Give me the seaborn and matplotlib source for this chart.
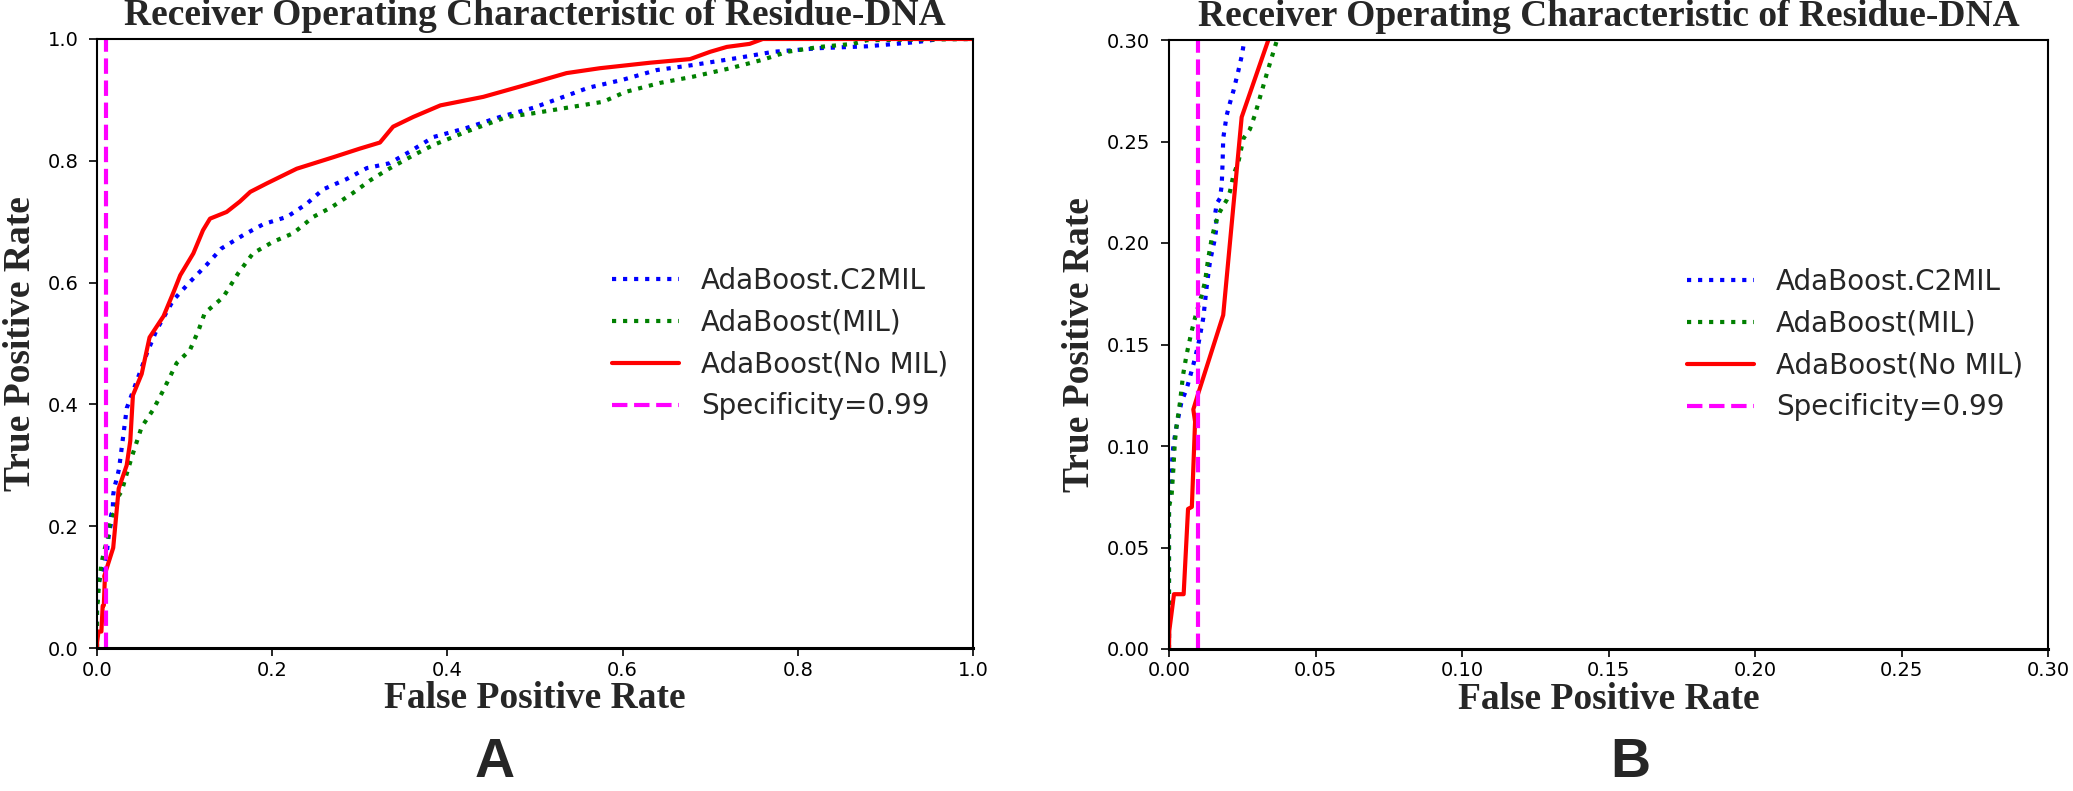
import seaborn as sns
import pandas as pd
import numpy as np
import matplotlib.pyplot as plt

# ROC points (panel B gives the low-FPR detail)
c2mil_fpr = [0.0, 0.0, 0.0007, 0.0009, 0.0015, 0.0026, 0.0043, 0.0060, 0.0083, 0.0100, 0.0117, 0.0123,
             0.0129, 0.0140, 0.0157, 0.0163, 0.0157, 0.0163, 0.0174, 0.0180, 0.0183, 0.0185, 0.0197, 0.0208,
             0.0220, 0.0237, 0.0248, 0.0254, 0.034, 0.043, 0.057, 0.068, 0.087, 0.106, 0.125, 0.142, 0.167,
             0.190, 0.217, 0.239, 0.258, 0.285, 0.308, 0.334, 0.357, 0.384, 0.422, 0.460, 0.498, 0.523, 0.561,
             0.600, 0.639, 0.679, 0.732, 0.772, 0.825, 0.879, 0.936, 0.962, 1.0]
c2mil_tpr = [0.0, 0.075, 0.0785, 0.089, 0.1005, 0.110, 0.122, 0.128, 0.140, 0.150, 0.163, 0.171,
             0.179, 0.191, 0.2023, 0.209, 0.2138, 0.2195, 0.222, 0.2286, 0.240, 0.2515, 0.263, 0.269,
             0.275, 0.285, 0.292, 0.297, 0.394, 0.429, 0.484, 0.522, 0.571, 0.601, 0.629, 0.656, 0.678,
             0.696, 0.708, 0.729, 0.753, 0.770, 0.788, 0.796, 0.815, 0.839, 0.854, 0.872, 0.887, 0.900, 0.920,
             0.933, 0.949, 0.957, 0.969, 0.979, 0.985, 0.988, 0.995, 1.0, 1.0]

mil_fpr = [0.0, 0.0, 0.0009, 0.0015, 0.0020, 0.0026, 0.0038, 0.0048, 0.0060, 0.0077, 0.0094, 0.0112,
           0.0123, 0.0134, 0.0146, 0.0157, 0.0174, 0.0197, 0.0208, 0.0220, 0.0237, 0.0254, 0.0276, 0.0293,
           0.0311, 0.0333, 0.0356, 0.040, 0.051, 0.064, 0.076, 0.091, 0.106, 0.116, 0.123, 0.144, 0.161,
           0.178, 0.201, 0.224, 0.247, 0.268, 0.292, 0.312, 0.331, 0.361, 0.384, 0.422, 0.468, 0.498, 0.536,
           0.578, 0.603, 0.643, 0.680, 0.723, 0.760, 0.788, 0.825, 0.863, 0.879, 1.0]
mil_tpr = [0.0, 0.07, 0.076, 0.089, 0.102, 0.110, 0.122, 0.135, 0.145, 0.1564, 0.166, 0.1745,
           0.181, 0.1925, 0.2023, 0.209, 0.2155, 0.2212, 0.2253, 0.2335, 0.240, 0.2515, 0.256, 0.263,
           0.272, 0.283, 0.294, 0.315, 0.363, 0.391, 0.424, 0.468, 0.489, 0.522, 0.550, 0.576, 0.615,
           0.648, 0.667, 0.681, 0.708, 0.724, 0.747, 0.768, 0.785, 0.809, 0.826, 0.848, 0.872, 0.878, 0.887,
           0.897, 0.913, 0.928, 0.938, 0.952, 0.966, 0.979, 0.987, 0.992, 0.998, 1.0]

nomil_fpr = [0.0, 0.0001, 0.0017, 0.0050, 0.0065, 0.0078, 0.0089, 0.0083, 0.0100, 0.0185, 0.0248, 0.0339,
             0.038, 0.041, 0.051, 0.060, 0.076, 0.087, 0.095, 0.110, 0.121, 0.129, 0.148, 0.163, 0.175,
             0.194, 0.228, 0.270, 0.300, 0.323, 0.338, 0.361, 0.392, 0.441, 0.483, 0.536, 0.574, 0.631,
             0.677, 0.700, 0.719, 0.745, 0.760, 1.0]
nomil_tpr = [0.0, 0.009, 0.027, 0.027, 0.069, 0.070, 0.112, 0.118, 0.126, 0.1645, 0.262, 0.300,
             0.34, 0.415, 0.45, 0.51, 0.545, 0.583, 0.612, 0.648, 0.686, 0.705, 0.716, 0.733, 0.749,
             0.763, 0.787, 0.806, 0.820, 0.830, 0.856, 0.872, 0.891, 0.905, 0.922, 0.944, 0.952, 0.961,
             0.967, 0.979, 0.987, 0.992, 1.0, 1.0]

specificity_fpr = 0.01

curves = [
    ("AdaBoost.C2MIL", c2mil_fpr, c2mil_tpr, "blue", ":"),
    ("AdaBoost(MIL)", mil_fpr, mil_tpr, "green", ":"),
    ("AdaBoost(No MIL)", nomil_fpr, nomil_tpr, "red", "-"),
]

sns.set_style("ticks", {"axes.edgecolor": "black", "xtick.color": "black", "ytick.color": "black"})
plt.rcParams["font.family"] = ["DejaVu Sans"]

label_font = dict(family="Liberation Serif", weight="bold", size=27)

fig = plt.figure(figsize=(20.73, 7.91), dpi=100)
axA = fig.add_axes([97 / 2073, 143 / 791, 876 / 2073, 609 / 791])
axB = fig.add_axes([1169 / 2073, 142 / 791, 879 / 2073, 609 / 791])


def draw_roc(ax, limit, ticks, fmt):
    for name, fpr, tpr, color, ls in curves:
        df = pd.DataFrame({"fpr": fpr, "tpr": tpr})
        sns.lineplot(data=df, x="fpr", y="tpr", ax=ax, sort=False, estimator=None,
                     color=color, linestyle=ls, linewidth=3, label=name)
    ax.axvline(specificity_fpr, color="magenta", linestyle="--", linewidth=3, label="Specificity=0.99")
    ax.set_xlim(0, limit)
    ax.set_ylim(0, limit)
    ax.set_xticks(ticks)
    ax.set_yticks(ticks)
    ax.set_xticklabels([fmt.format(t) for t in ticks])
    ax.set_yticklabels([fmt.format(t) for t in ticks])
    ax.tick_params(axis="both", labelsize=14, length=5.5, width=1.2)
    ax.tick_params(axis="x", pad=3.5)
    ax.tick_params(axis="y", pad=8)
    for sp in ax.spines.values():
        sp.set_linewidth(1.5)
    ax.spines["bottom"].set_linewidth(2.2)
    ax.set_title("Receiver Operating Characteristic of Residue-DNA", fontdict=label_font, pad=10)
    ax.set_xlabel("False Positive Rate", fontdict=label_font, labelpad=1)
    ax.set_ylabel("True Positive Rate", fontdict=label_font, labelpad=7)
    ax.legend(loc="center right", fontsize=20, frameon=False, handlelength=2.4)


draw_roc(axA, 1.0, np.arange(0, 1.01, 0.2), "{:.1f}")
draw_roc(axB, 0.30, np.arange(0, 0.301, 0.05), "{:.2f}")

# panel letters sit right at the bottom edge
fig.text(495 / 2073, 0.002, "A", fontsize=40, fontweight="bold", family="Liberation Sans",
         ha="center", va="bottom")
fig.text(1630 / 2073, 0.002, "B", fontsize=40, fontweight="bold", family="Liberation Sans",
         ha="center", va="bottom")

fig.savefig("out.png", dpi=100)
